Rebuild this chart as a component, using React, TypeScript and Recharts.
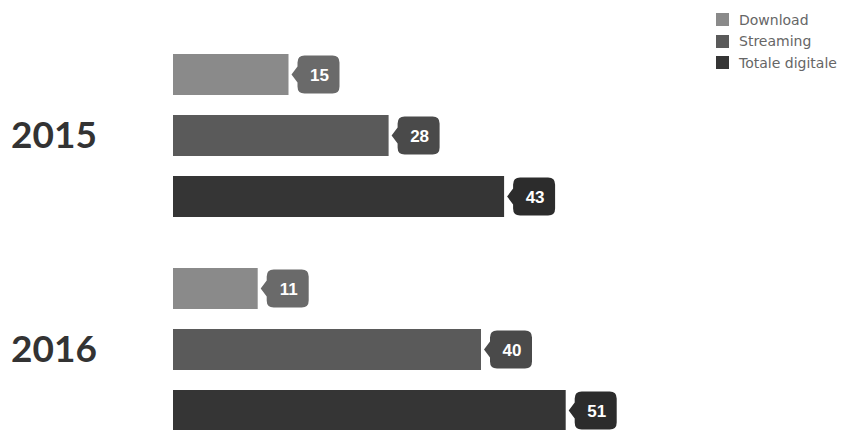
import React from "react";
import { BarChart, Bar, XAxis, YAxis, Legend, LabelList } from "recharts";

// anni e valori (milioni di euro)
const years = ["2015", "2016"];
const download = [15, 11];
const streaming = [28, 40];
const totale = [43, 51];

const seriesNames = ["Download", "Streaming", "Totale digitale"];
const barColors = ["#8a8a8a", "#5a5a5a", "#353535"];
const tagColors = ["#6a6a6a", "#4a4a4a", "#2c2c2c"];

const data = years.map((y, i) => ({
    year: y,
    download: download[i],
    streaming: streaming[i],
    totale: totale[i],
}));

function YearTick(props: any) {
    const { y, payload } = props;
    return (
        <text x={11} y={y} dy={13} textAnchor="start" fontFamily="Lato" fontWeight={700} fontSize={37} fill="#333">
            {payload.value}
        </text>
    );
}

function makeTag(color: string) {
    return function Tag(props: any) {
        const { x, y, width, height, value } = props;
        const cy = y + height / 2;
        const tip = x + width + 3;
        const l = x + width + 9;
        const r = l + 42;
        const t = cy - 19;
        const b = cy + 19;
        const k = 7;
        const d = `M${tip},${cy} L${l},${cy - 8} L${l},${t + k} Q${l},${t} ${l + k},${t} L${r - k},${t} Q${r},${t} ${r},${t + k} L${r},${b - k} Q${r},${b} ${r - k},${b} L${l + k},${b} Q${l},${b} ${l},${b - k} L${l},${cy + 8} Z`;
        return (
            <g>
                <path d={d} fill={color} />
                <text x={(l + r) / 2 + 1} y={cy} dy={6} textAnchor="middle" fontFamily="Liberation Sans" fontWeight={700} fontSize={17} fill="#fff">
                    {value}
                </text>
            </g>
        );
    };
}

function LegendBox() {
    return (
        <div style={{ fontFamily: "DejaVu Sans", fontSize: 14, color: "#666" }}>
            {seriesNames.map((n, i) => (
                <div key={n} style={{ display: "flex", alignItems: "center", height: 21.5, whiteSpace: "nowrap" }}>
                    <span style={{ display: "inline-block", width: 13, height: 13, background: barColors[i], marginRight: 10 }} />
                    {n}
                </div>
            ))}
        </div>
    );
}

export default function App() {
    return (
        <div style={{ position: "absolute", left: 0, top: 0, width: 846, height: 430, overflow: "hidden", background: "#fff" }}>
            <BarChart width={846} height={460} data={data} layout="vertical" barSize={41} barGap={20}
                margin={{ top: 28, right: 211, bottom: 4, left: 0 }}>
                <XAxis type="number" domain={[0, 60]} hide />
                <YAxis type="category" dataKey="year" width={173} axisLine={false} tickLine={false} tick={<YearTick />} />
                <Legend content={<LegendBox />} layout="vertical" verticalAlign="middle" align="center"
                    wrapperStyle={{ top: 9, left: 716, width: 140 }} />
                <Bar dataKey="download" name={seriesNames[0]} fill={barColors[0]} isAnimationActive={false}>
                    <LabelList dataKey="download" content={makeTag(tagColors[0])} />
                </Bar>
                <Bar dataKey="streaming" name={seriesNames[1]} fill={barColors[1]} isAnimationActive={false}>
                    <LabelList dataKey="streaming" content={makeTag(tagColors[1])} />
                </Bar>
                <Bar dataKey="totale" name={seriesNames[2]} fill={barColors[2]} isAnimationActive={false}>
                    <LabelList dataKey="totale" content={makeTag(tagColors[2])} />
                </Bar>
            </BarChart>
        </div>
    );
}
